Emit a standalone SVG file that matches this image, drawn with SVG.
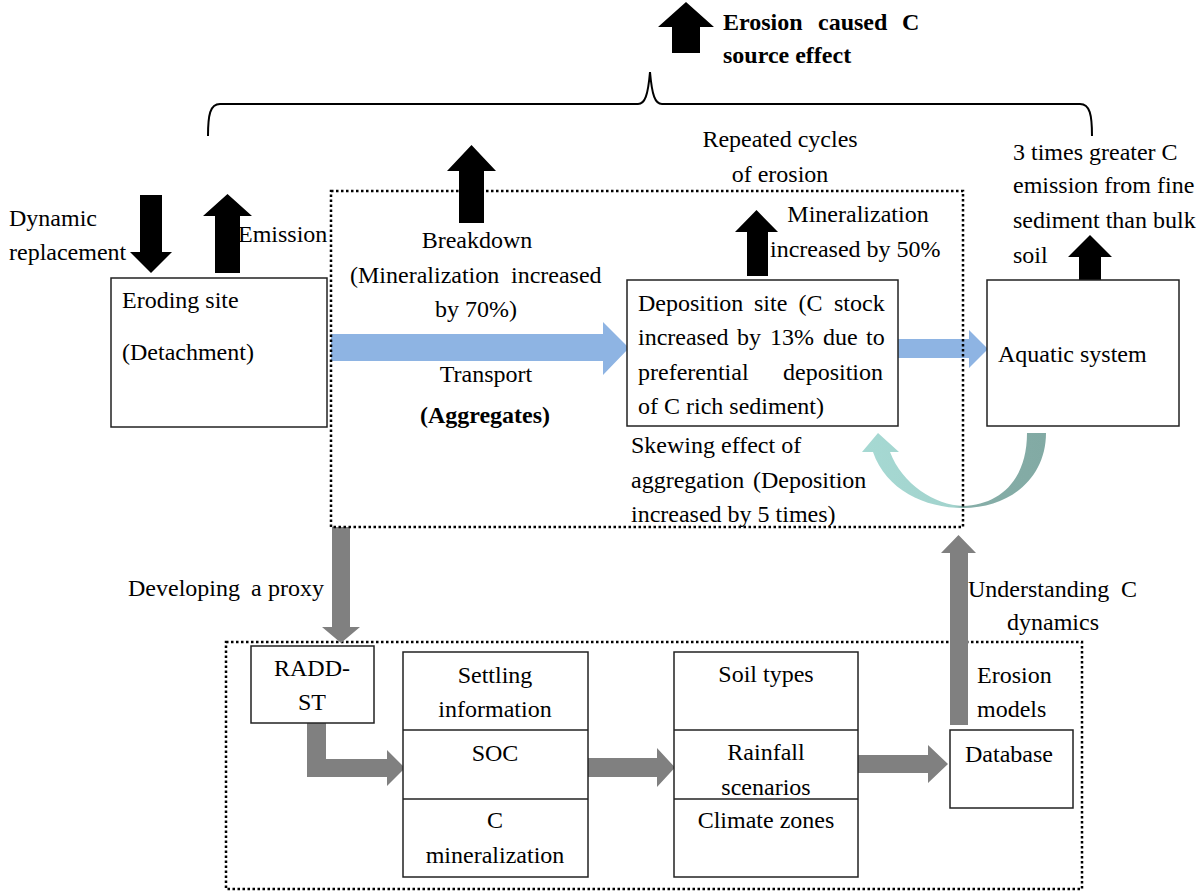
<svg xmlns="http://www.w3.org/2000/svg" width="1203" height="893" viewBox="0 0 1203 893">
<style>
.t{font-family:"Liberation Serif","Times New Roman",serif;font-size:24px;fill:#000}
.b{font-weight:bold}
.m{text-anchor:middle}
.box{fill:#fff;stroke:#222;stroke-width:1.5}
.dot{fill:none;stroke:#000;stroke-width:2.5;stroke-dasharray:2.5 2.5}
.blk{fill:#000}
.gry{fill:#808080}
.blu{fill:#8EB4E3}
</style>
<defs>
<linearGradient id="teal" x1="862" y1="0" x2="1046" y2="0" gradientUnits="userSpaceOnUse">
<stop offset="0" stop-color="#A6D9D3"/>
<stop offset="0.5" stop-color="#A2D3CD"/>
<stop offset="0.56" stop-color="#86AEA8"/>
<stop offset="1" stop-color="#82AAA4"/>
</linearGradient>
</defs>
<rect width="1203" height="893" fill="#fff"/>

<!-- bottom dotted frame -->
<rect class="dot" x="226" y="642" width="856" height="247"/>

<g id="connectors">
<!-- brace -->
<path d="M208 136 C208 115 210 104 220 104 L638 104 C645 104 648 95 650 72 C652 95 655 104 662 104 L1080 104 C1090 104 1092 115 1092 136" fill="none" stroke="#000" stroke-width="2"/>
<!-- black arrows -->
<polygon class="blk" points="686,2 714,27 700,27 700,53 672,53 672,27 658,27"/>
<polygon class="blk" points="140,195 162,195 162,252 172,252 151,273 130,252 140,252"/>
<polygon class="blk" points="227.5,194 252,216 240,216 240,273 215,273 215,216 203,216"/>
<polygon class="blk" points="471.5,145 496,171 484,171 484,223 459,223 459,171 447,171"/>
<polygon class="blk" points="756.5,210 778,232 768,232 768,276 747,276 747,232 735,232"/>
<polygon class="blk" points="1090,235 1112,257 1101,257 1101,281 1079,281 1079,257 1068,257"/>
<!-- blue arrows -->
<polygon class="blu" points="331,334 603,334 603,322 629,348 603,375 603,361 331,361"/>
<polygon class="blu" points="897,339 969,339 969,330 988,349 969,368 969,358 897,358"/>
<!-- curved arrow -->
<path fill="url(#teal)" d="M1046 433 C1046 478 1010 508 963 508 C925 508 886 490 873 452 L862 452 L878 433 L899 452 L890 452 C902 484 935 505 963 506 C1000 505 1027 480 1027 433 Z"/>
<!-- grey arrows -->
<polygon class="gry" points="332,527 350,527 350,627 360,627 341,643 322,627 332,627"/>
<polygon class="gry" points="950,725 968,725 968,553 976,553 958.5,535 941,553 950,553"/>
<polygon class="gry" points="307,723 326,723 326,759 387,759 387,750 405,768 387,786 387,777 307,777"/>
<polygon class="gry" points="588,758 657,758 657,748 675,767.5 657,787 657,777 588,777"/>
<polygon class="gry" points="858,755 928,755 928,745 948,764 928,783 928,773 858,773"/>
</g>

<!-- top dotted frame -->
<rect class="dot" x="331" y="191" width="632" height="336"/>

<g id="title">
<text class="t b" y="30"><tspan x="723">Erosion</tspan><tspan x="818">caused</tspan><tspan x="902">C</tspan></text>
<text class="t b" x="723" y="63">source effect</text>
</g>

<g id="labels-left">
<text class="t" x="9" y="226">Dynamic</text>
<text class="t" x="9" y="260">replacement</text>
<text class="t" x="238" y="242">Emission</text>
</g>

<g id="eroding-site">
<rect class="box" x="111" y="278" width="216" height="149"/>
<text class="t" x="122" y="308">Eroding site</text>
<text class="t" x="122" y="360">(Detachment)</text>
</g>

<g id="breakdown">
<text class="t m" x="477" y="248">Breakdown</text>
<text class="t" x="350" y="283">(Mineralization <tspan x="511">increased</tspan></text>
<text class="t m" x="476" y="317">by 70%)</text>
</g>

<g id="transport">
<text class="t m" x="486" y="382">Transport</text>
<text class="t b m" x="485" y="423">(Aggregates)</text>
</g>

<g id="repeated">
<text class="t m" x="780" y="147">Repeated cycles</text>
<text class="t m" x="780" y="182">of erosion</text>
<text class="t m" x="858" y="222">Mineralization</text>
<text class="t" x="770" y="257">increased by 50%</text>
</g>

<g id="deposition-site">
<rect class="box" x="627" y="280" width="271" height="146"/>
<text class="t" y="311"><tspan x="638">Deposition</tspan><tspan x="754">site</tspan><tspan x="798.5">(C</tspan><tspan x="834">stock</tspan></text>
<text class="t" y="345"><tspan x="638">increased</tspan><tspan x="737">by</tspan><tspan x="770">13%</tspan><tspan x="823">due</tspan><tspan x="866">to</tspan></text>
<text class="t" y="380"><tspan x="638">preferential</tspan><tspan x="783">deposition</tspan></text>
<text class="t" x="638" y="414">of C rich sediment)</text>
</g>

<g id="skewing">
<text class="t" x="631" y="453">Skewing effect of</text>
<text class="t" y="488"><tspan x="631">aggregation</tspan><tspan x="753">(Deposition</tspan></text>
<text class="t" x="631" y="522">increased by 5 times)</text>
</g>

<g id="aquatic-system">
<rect class="box" x="987" y="280" width="192" height="146"/>
<text class="t" x="998" y="362">Aquatic system</text>
</g>

<g id="fine-sediment">
<text class="t" x="1013" y="160">3 times greater C</text>
<text class="t" x="1013" y="193">emission from fine</text>
<text class="t" x="1013" y="228">sediment than bulk</text>
<text class="t" x="1013" y="263">soil</text>
</g>

<g id="proxy-label">
<text class="t" y="596"><tspan x="128">Developing</tspan><tspan x="251">a</tspan><tspan x="268">proxy</tspan></text>
</g>

<g id="understanding-label">
<text class="t" y="597"><tspan x="968">Understanding</tspan><tspan x="1121">C</tspan></text>
<text class="t m" x="1053" y="630">dynamics</text>
</g>

<g id="radd-st">
<rect class="box" x="251" y="646" width="123" height="77"/>
<text class="t m" x="312" y="676">RADD-</text>
<text class="t m" x="312" y="710">ST</text>
</g>

<g id="soc-column">
<rect class="box" x="403" y="652" width="185" height="225"/>
<line x1="403" y1="730" x2="588" y2="730" stroke="#222" stroke-width="1.5"/>
<line x1="403" y1="799" x2="588" y2="799" stroke="#222" stroke-width="1.5"/>
<text class="t m" x="495" y="683">Settling</text>
<text class="t m" x="495" y="717">information</text>
<text class="t m" x="495" y="761">SOC</text>
<text class="t m" x="495" y="828">C</text>
<text class="t m" x="495" y="863">mineralization</text>
</g>

<g id="soil-column">
<rect class="box" x="674" y="652" width="184" height="225"/>
<line x1="674" y1="730" x2="858" y2="730" stroke="#222" stroke-width="1.5"/>
<line x1="674" y1="799" x2="858" y2="799" stroke="#222" stroke-width="1.5"/>
<text class="t m" x="766" y="682">Soil types</text>
<text class="t m" x="766" y="760">Rainfall</text>
<text class="t m" x="766" y="795">scenarios</text>
<text class="t m" x="766" y="828">Climate zones</text>
</g>

<g id="erosion-models">
<text class="t" x="977" y="683">Erosion</text>
<text class="t" x="977" y="717">models</text>
</g>

<g id="database">
<rect class="box" x="950" y="730" width="123" height="78"/>
<text class="t" x="965" y="762">Database</text>
</g>
</svg>
